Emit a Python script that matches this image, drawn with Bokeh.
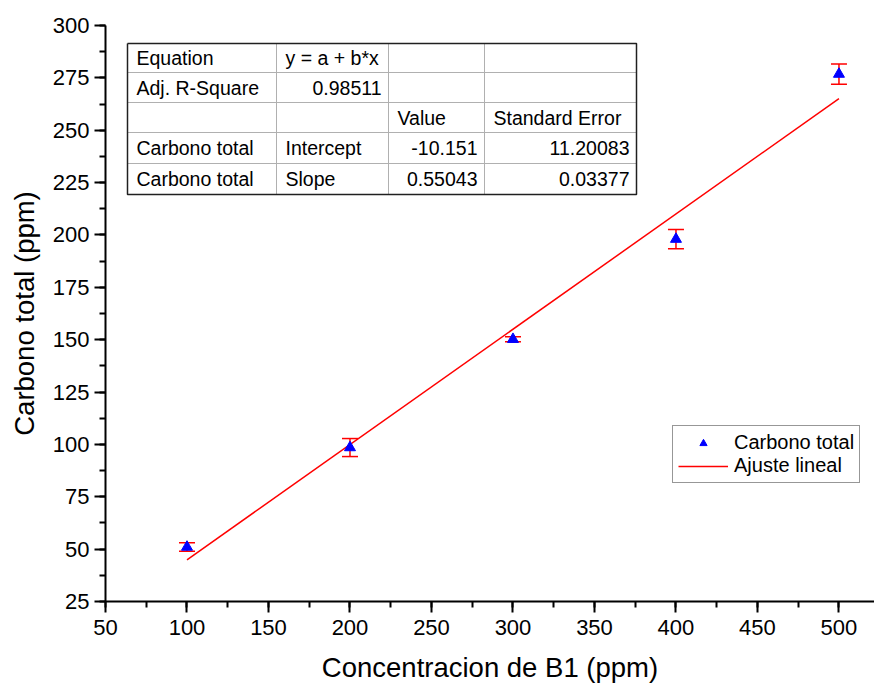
from bokeh.plotting import figure
from bokeh.models import (Range1d, SingleIntervalTicker, Whisker, ColumnDataSource,
                          Legend, LegendItem, Label, TeeHead)
from bokeh.embed import file_html
from bokeh.resources import INLINE

# ---- data ----
conc = [100, 200, 300, 400, 500]
carbono = [51.0, 98.5, 150.2, 198.0, 276.8]
err = [2.0, 4.3, 1.2, 4.6, 4.8]
intercept = -10.151
slope = 0.55043
fit_x = [100, 500]

table_rows = [
    ["Equation", "y = a + b*x", "", ""],
    ["Adj. R-Square", "0.98511", "", ""],
    ["", "", "Value", "Standard Error"],
    ["Carbono total", "Intercept", "-10.151", "11.20083"],
    ["Carbono total", "Slope", "0.55043", "0.03377"],
]
# alignment per cell: 'l' or 'r'
table_align = [
    ["l", "l", "l", "l"],
    ["l", "r", "l", "l"],
    ["l", "l", "l", "l"],
    ["l", "l", "r", "r"],
    ["l", "l", "r", "r"],
]

FONT = "Liberation Sans"
W, H = 874, 685
BL, BR, BT, BB = 105, 0, 25, 84
XR = (50, 521.8)
YR = (25, 300)

p = figure(width=W, height=H, output_backend="svg", toolbar_location=None,
           x_range=Range1d(*XR), y_range=Range1d(*YR),
           min_border_left=BL, min_border_right=BR, min_border_top=BT, min_border_bottom=BB)
p.outline_line_color = None
p.grid.visible = False
p.background_fill_color = "white"
p.border_fill_color = "white"

fw = W - BL - BR
fh = H - BT - BB


def px2x(px):
    return XR[0] + (px - BL) / fw * (XR[1] - XR[0])


def py2y(py):
    return YR[1] - (py - BT) / fh * (YR[1] - YR[0])


# axes styling
for ax, step in ((p.xaxis[0], 50), (p.yaxis[0], 25)):
    ax.ticker = SingleIntervalTicker(interval=step, num_minor_ticks=2)
    ax.axis_line_width = 2
    ax.axis_line_color = "black"
    ax.major_tick_line_width = 2
    ax.minor_tick_line_width = 2
    ax.major_tick_out = 11
    ax.major_tick_in = 0
    ax.minor_tick_out = 6
    ax.minor_tick_in = 0
    ax.major_label_text_font = FONT
    ax.major_label_text_font_size = "22px"
    ax.major_label_text_color = "black"
    ax.axis_label_text_font = FONT
    ax.axis_label_text_font_style = "normal"
    ax.axis_label_text_color = "black"
    ax.axis_label_text_font_size = "27.5px"

p.xaxis.axis_label = "Concentracion de B1 (ppm)"
p.yaxis.axis_label = "Carbono total (ppm)"
p.xaxis.major_label_standoff = 7
p.yaxis.major_label_standoff = 5
p.xaxis.axis_label_standoff = 14
p.yaxis.axis_label_standoff = 10

# fit line
fit_y = [intercept + slope * x for x in fit_x]
ln = p.line(fit_x, fit_y, line_color="red", line_width=1.5)

# error bars
src = ColumnDataSource(dict(x=conc, y=carbono,
                            lo=[c - e for c, e in zip(carbono, err)],
                            hi=[c + e for c, e in zip(carbono, err)]))
wh = Whisker(source=src, base="x", upper="hi", lower="lo",
             line_color="red", line_width=1.5,
             upper_head=TeeHead(size=16, line_color="red", line_width=1.5),
             lower_head=TeeHead(size=16, line_color="red", line_width=1.5))
p.add_layout(wh)

sc = p.scatter("x", "y", source=src, marker="triangle", size=11,
               fill_color="blue", line_color="blue")

# table
col_px = [127, 276, 388, 484, 636]
row_px = [43, 72, 102, 132, 163, 194]
# inner lines
for cx in col_px[1:-1]:
    p.line([px2x(cx), px2x(cx)], [py2y(row_px[0]), py2y(row_px[-1])],
           line_color="#b0b0b0", line_width=1)
for ry in row_px[1:-1]:
    p.line([px2x(col_px[0]), px2x(col_px[-1])], [py2y(ry), py2y(ry)],
           line_color="#b0b0b0", line_width=1)
# outer border
ox = [px2x(col_px[0]), px2x(col_px[-1]), px2x(col_px[-1]), px2x(col_px[0]), px2x(col_px[0])]
oy = [py2y(row_px[0]), py2y(row_px[0]), py2y(row_px[-1]), py2y(row_px[-1]), py2y(row_px[0])]
p.line(ox, oy, line_color="#202020", line_width=1.5)

for r, row in enumerate(table_rows):
    yc = py2y((row_px[r] + row_px[r + 1]) / 2)
    for c, txt in enumerate(row):
        if not txt:
            continue
        if table_align[r][c] == "l":
            xx = px2x(col_px[c] + 9)
            align = "left"
        else:
            xx = px2x(col_px[c + 1] - 7)
            align = "right"
        p.add_layout(Label(x=xx, y=yc, text=txt, text_font=FONT,
                           text_font_size="19.5px", text_color="black",
                           text_align=align, text_baseline="middle"))

# legend
legend = Legend(items=[LegendItem(label="Carbono total", renderers=[sc]),
                       LegendItem(label="Ajuste lineal", renderers=[ln])],
                location=(567, 118))
legend.label_text_font = FONT
legend.label_text_font_size = "20px"
legend.label_text_color = "black"
legend.border_line_color = "#303030"
legend.border_line_width = 1.5
legend.glyph_width = 50
legend.glyph_height = 18
legend.label_height = 18
legend.spacing = 0
legend.padding = 5
legend.margin = 0
legend.label_standoff = 6
legend.background_fill_alpha = 1
p.add_layout(legend, "center")

open("out.html", "w").write(file_html(p, INLINE))
